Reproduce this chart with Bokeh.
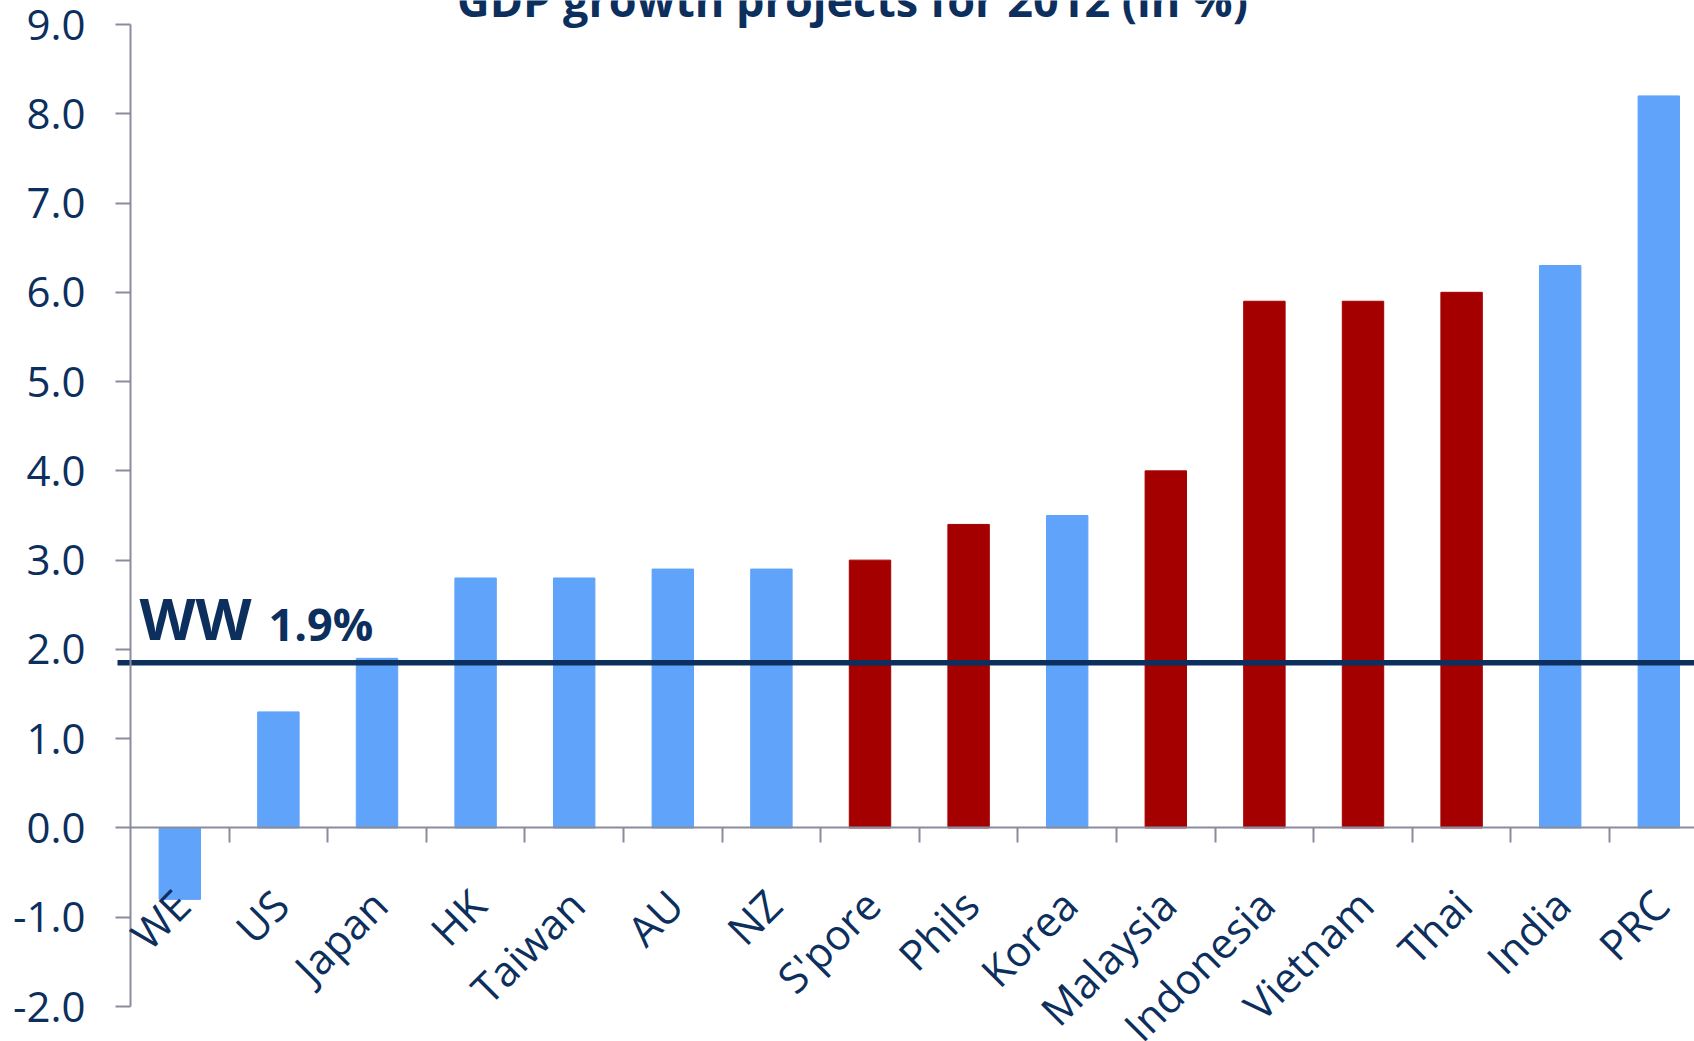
import math
from bokeh.plotting import figure
from bokeh.models import (Range1d, ColumnDataSource, Label,
                          FixedTicker, NumeralTickFormatter)
from bokeh.embed import file_html
from bokeh.resources import INLINE

# ---- data ----
countries = ["WE", "US", "Japan", "HK", "Taiwan", "AU", "NZ", "S'pore", "Phils",
             "Korea", "Malaysia", "Indonesia", "Vietnam", "Thai", "India", "PRC"]
growth = [-0.8, 1.3, 1.9, 2.8, 2.8, 2.9, 2.9, 3.0, 3.4, 3.5, 4.0, 5.9, 5.9, 6.0, 6.3, 8.2]
asean = [False, False, False, False, False, False, False, True, True, False,
         True, True, True, True, False, False]
y_ticks = [-2, -1, 0, 1, 2, 3, 4, 5, 6, 7, 8, 9]
ww_level = 1.85
ww_name = "WW"
ww_value = "1.9%"
title_text = "GDP growth projects for 2012 (in %)"

# ---- styling ----
NAVY = "#0C2F5E"
GRAY = "#8A8B9D"
BLUE = "#5FA3FB"
RED = "#A50000"

W, H = 1694, 1041
LEFT, TOP, BOTTOM = 130, 24, 35          # where the axes sit on the page
CAT_PX = 98.6                            # width of one category, px
PX_PER_UNIT = (H - TOP - BOTTOM) / (y_ticks[-1] - y_ticks[0])

x_start = -LEFT / CAT_PX
x_end = (W - LEFT) / CAT_PX
y_top = y_ticks[-1] + TOP / PX_PER_UNIT
y_bot = y_ticks[0] - BOTTOM / PX_PER_UNIT

centers = [i + 0.5 for i in range(len(countries))]
boundaries = list(range(1, len(countries) + 1))
colors = [RED if a else BLUE for a in asean]

src = ColumnDataSource(dict(x=centers, top=growth, color=colors))

p = figure(width=W, height=H, output_backend="svg", toolbar_location=None,
           x_range=Range1d(x_start, x_end), y_range=Range1d(y_bot, y_top),
           min_border_left=0, min_border_top=0, min_border_bottom=0,
           min_border_right=0)
p.outline_line_color = None
p.grid.visible = False
p.background_fill_color = "white"
p.border_fill_color = "white"

p.vbar(x="x", top="top", bottom=0, width=0.42, color="color", source=src)

# WW reference line (starts a little left of the value axis)
p.segment(x0=[-13 / CAT_PX], x1=[x_end], y0=[ww_level], y1=[ww_level],
          line_color=NAVY, line_width=5.5)

# category axis at zero, tick marks between categories
xa = p.xaxis[0]
xa.fixed_location = 0
xa.bounds = (0, x_end)
xa.ticker = FixedTicker(ticks=boundaries)
xa.major_label_overrides = {b: "" for b in boundaries}
xa.major_tick_out = 15
xa.major_tick_in = 0
xa.minor_tick_line_color = None
xa.axis_line_color = GRAY
xa.axis_line_width = 2
xa.major_tick_line_color = GRAY
xa.major_tick_line_width = 2

# value axis at x = 0, running from -2 to 9
ya = p.yaxis[0]
ya.fixed_location = 0
ya.bounds = (y_ticks[0], y_ticks[-1])
ya.ticker = FixedTicker(ticks=y_ticks)
ya.formatter = NumeralTickFormatter(format="0.0")
ya.major_tick_out = 15
ya.major_tick_in = 0
ya.minor_tick_line_color = None
ya.axis_line_color = GRAY
ya.axis_line_width = 2
ya.major_tick_line_color = GRAY
ya.major_tick_line_width = 2
ya.major_label_standoff = 30
ya.major_label_text_font = "Open Sans"
ya.major_label_text_font_size = "42px"
ya.major_label_text_color = NAVY

# category labels
for xc, name in zip(centers, countries):
    p.add_layout(Label(x=xc, y=0, text=name, angle=math.pi / 4,
                       text_align="right", text_baseline="alphabetic",
                       x_offset=2, y_offset=-69,
                       text_font="Open Sans", text_font_size="42px",
                       text_color=NAVY))


def y_for_baseline(page_y, font_px):
    bottom = page_y + 0.293 * font_px
    return y_ticks[-1] - (bottom - TOP) / PX_PER_UNIT


# WW annotation
p.add_layout(Label(x=(139 - LEFT) / CAT_PX, y=y_for_baseline(640, 58),
                   text=ww_name, text_font="Open Sans",
                   text_font_style="bold", text_font_size="58px",
                   text_color=NAVY, text_baseline="bottom"))
p.add_layout(Label(x=(268 - LEFT) / CAT_PX, y=y_for_baseline(640, 45),
                   text=ww_value, text_font="Open Sans",
                   text_font_style="bold", text_font_size="45px",
                   text_color=NAVY, text_baseline="bottom"))

# title (partly cut off at the top, as in the reference)
p.add_layout(Label(x=(852 - LEFT) / CAT_PX, y=y_for_baseline(16, 45),
                   text=title_text, text_font="Open Sans",
                   text_font_style="bold", text_font_size="45px",
                   text_color=NAVY, text_align="center",
                   text_baseline="bottom"))

open("out.html", "w").write(file_html(p, INLINE))
